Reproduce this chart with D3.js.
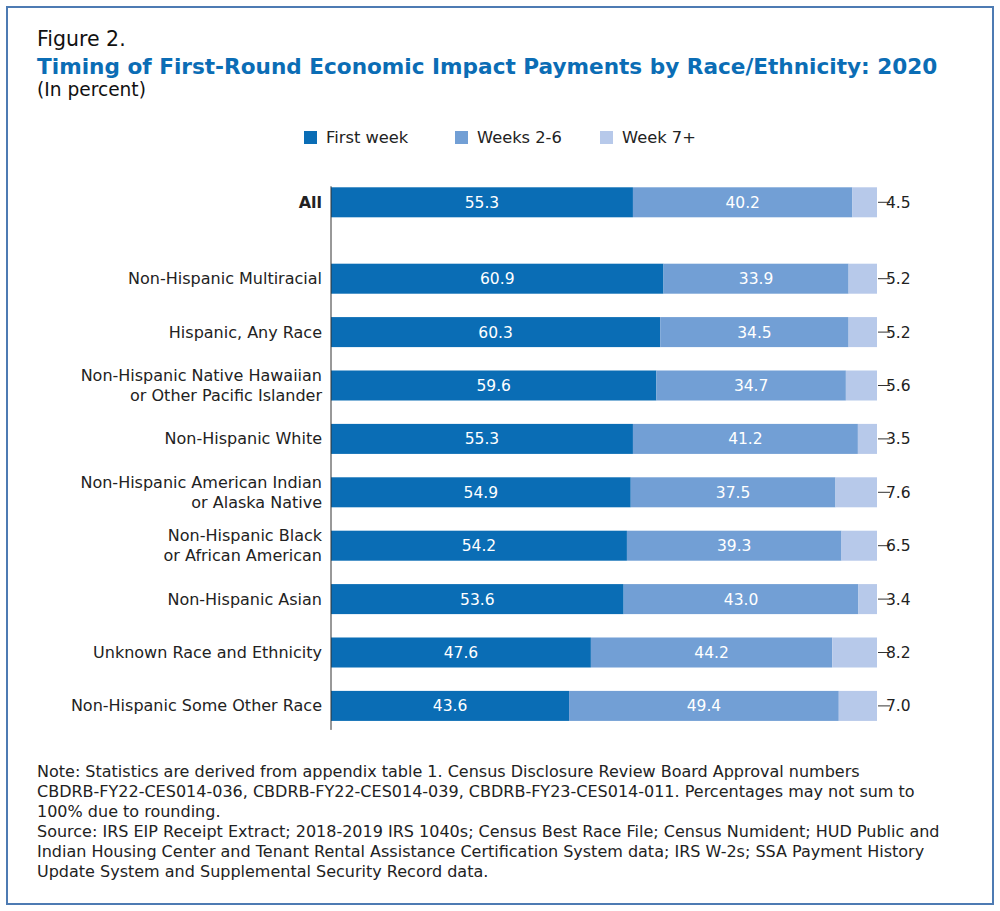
<!DOCTYPE html>
<html>
<head>
<meta charset="utf-8">
<script src="https://d3js.org/d3.v7.min.js"></script>
<style>
  body { margin: 0; background: #fff; }
  text { font-family: "DejaVu Sans", sans-serif; }
</style>
</head>
<body>
<script>
    // data
    var categories = ["All", "Non-Hispanic Multiracial", "Hispanic, Any Race",
        "Non-Hispanic Native Hawaiian|or Other Pacific Islander", "Non-Hispanic White",
        "Non-Hispanic American Indian|or Alaska Native", "Non-Hispanic Black|or African American",
        "Non-Hispanic Asian", "Unknown Race and Ethnicity", "Non-Hispanic Some Other Race"];
    var firstWeek = [55.3, 60.9, 60.3, 59.6, 55.3, 54.9, 54.2, 53.6, 47.6, 43.6];
    var weeks2to6 = [40.2, 33.9, 34.5, 34.7, 41.2, 37.5, 39.3, 43.0, 44.2, 49.4];
    var week7 = [4.5, 5.2, 5.2, 5.6, 3.5, 7.6, 6.5, 3.4, 8.2, 7.0];
    var seriesNames = ["First week", "Weeks 2-6", "Week 7+"];
    var colors = ["#0a6db5", "#729fd5", "#b7c9ea"];

    var noteLines = [
        "Note: Statistics are derived from appendix table 1. Census Disclosure Review Board Approval numbers",
        "CBDRB-FY22-CES014-036, CBDRB-FY22-CES014-039, CBDRB-FY23-CES014-011. Percentages may not sum to",
        "100% due to rounding."
    ];
    var sourceLines = [
        "Source: IRS EIP Receipt Extract; 2018-2019 IRS 1040s; Census Best Race File; Census Numident; HUD Public and",
        "Indian Housing Center and Tenant Rental Assistance Certification System data; IRS W-2s; SSA Payment History",
        "Update System and Supplemental Security Record data."
    ];

    var width = 1000, height = 911;
    var allGap = 23;

    var svg = d3.select("body").append("svg")
        .attr("width", width)
        .attr("height", height);

    // frame
    svg.append("rect")
        .attr("x", 7).attr("y", 7)
        .attr("width", 986).attr("height", 897)
        .attr("fill", "none")
        .attr("stroke", "#4d7bb3")
        .attr("stroke-width", 2);

    // titles
    svg.append("text").attr("x", 37).attr("y", 46)
        .style("font-size", "20.5px").attr("fill", "#111")
        .text("Figure 2.");
    svg.append("text").attr("x", 37).attr("y", 74)
        .style("font-size", "21.6px").style("font-weight", "bold").attr("fill", "#0b6db5")
        .text("Timing of First-Round Economic Impact Payments by Race/Ethnicity: 2020");
    svg.append("text").attr("x", 37).attr("y", 96)
        .style("font-size", "18.6px").attr("fill", "#111")
        .text("(In percent)");

    // legend
    var legendX = [304, 455, 600];
    var legend = svg.selectAll(".legend")
        .data(seriesNames)
        .enter().append("g")
        .attr("transform", function (d, i) { return "translate(" + legendX[i] + ",131)"; });
    legend.append("rect")
        .attr("width", 13).attr("height", 13)
        .attr("fill", function (d, i) { return colors[i]; });
    legend.append("text")
        .attr("x", 22).attr("y", 12)
        .style("font-size", "16.3px").attr("fill", "#222")
        .text(function (d) { return d; });

    // scales
    var x = d3.scaleLinear().domain([0, 100]).range([331, 877]);
    var y = d3.scaleBand()
        .domain(categories)
        .range([175.6, 709.6])
        .paddingInner(0.438)
        .paddingOuter(0.219);
    function rowY(d, i) { return y(d) + (i > 0 ? allGap : 0); }

    var rows = categories.map(function (c, i) {
        return { cat: c, i: i, vals: [firstWeek[i], weeks2to6[i], week7[i]] };
    });

    var row = svg.selectAll(".row")
        .data(rows)
        .enter().append("g")
        .attr("transform", function (d) { return "translate(0," + rowY(d.cat, d.i) + ")"; });

    var bw = y.bandwidth();

    row.each(function (d) {
        var g = d3.select(this);
        var start = 0;
        d.vals.forEach(function (v, k) {
            var end = k == 2 ? 100 : start + v;
            g.append("rect")
                .attr("x", x(start))
                .attr("y", 0)
                .attr("width", x(end) - x(start))
                .attr("height", bw)
                .attr("fill", colors[k]);
            if (k < 2) {
                g.append("text")
                    .attr("x", (x(start) + x(end)) / 2)
                    .attr("y", bw / 2 + 5.5)
                    .attr("text-anchor", "middle")
                    .style("font-size", "15.5px")
                    .attr("fill", "#fff")
                    .text(v.toFixed(1));
            }
            start = end;
        });
        // outside label for week 7+
        g.append("line")
            .attr("x1", x(100) + 1).attr("x2", x(100) + 13)
            .attr("y1", bw / 2).attr("y2", bw / 2)
            .attr("stroke", "#333").attr("stroke-width", 1);
        g.append("text")
            .attr("x", x(100) + 9)
            .attr("y", bw / 2 + 5.5)
            .style("font-size", "15.5px")
            .attr("fill", "#222")
            .text(d.vals[2].toFixed(1));

        // category label
        var parts = d.cat.split("|");
        var lab = g.append("text")
            .attr("x", 322)
            .attr("text-anchor", "end")
            .style("font-size", "16px")
            .style("font-weight", d.i == 0 ? "bold" : "normal")
            .attr("fill", "#222");
        parts.forEach(function (p, j) {
            lab.append("tspan")
                .attr("x", 322)
                .attr("y", bw / 2 + 5.5 + (j - (parts.length - 1) / 2) * 20)
                .text(p);
        });
    });

    // axis line
    svg.append("line")
        .attr("x1", 331).attr("x2", 331)
        .attr("y1", y(categories[0]) - 1)
        .attr("y2", rowY(categories[9], 9) + bw + 9)
        .attr("stroke", "#333").attr("stroke-width", 1);

    // notes
    var notes = svg.append("g").attr("fill", "#222").style("font-size", "16px");
    noteLines.forEach(function (t, i) {
        notes.append("text").attr("x", 37).attr("y", 777 + i * 20).text(t);
    });
    sourceLines.forEach(function (t, i) {
        notes.append("text").attr("x", 37).attr("y", 837 + i * 20).text(t);
    });
</script>
</body>
</html>
